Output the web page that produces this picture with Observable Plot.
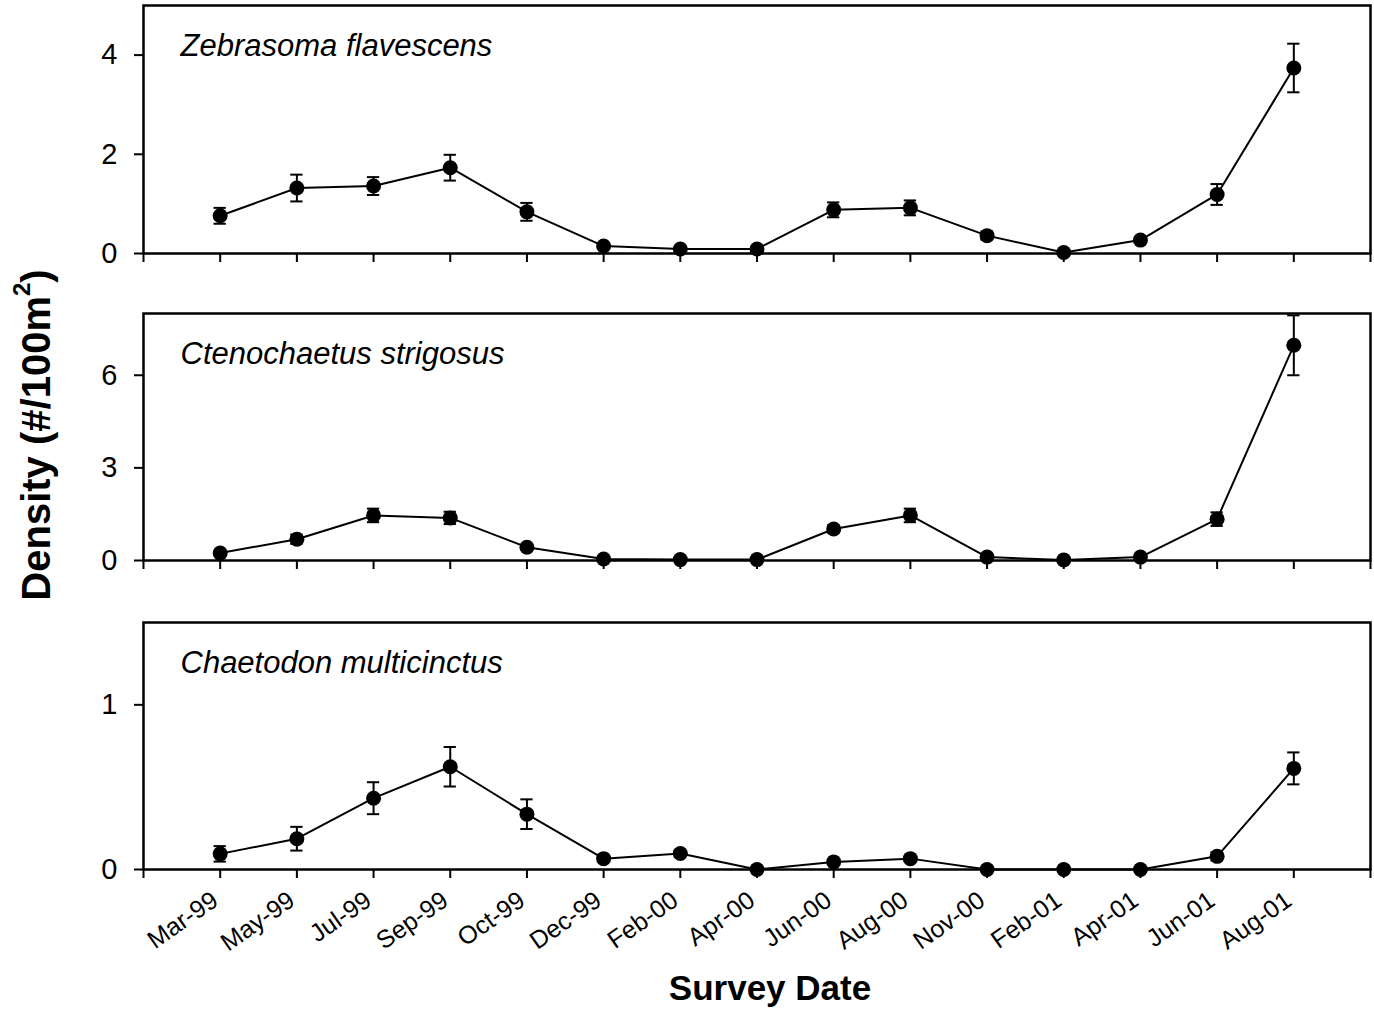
<!DOCTYPE html>
<html>
<head>
<meta charset="utf-8">
<script src="https://cdn.jsdelivr.net/npm/d3@7"></script>
<script src="https://cdn.jsdelivr.net/npm/@observablehq/plot@0.6"></script>
<style>
  html, body { margin: 0; padding: 0; background: #fff; }
  #root { position: relative; width: 1374px; height: 1012px; font-family: "Liberation Sans", Arial, sans-serif; }
  .panel { position: absolute; left: 0; }
  #titles { position: absolute; left: 0; top: 0; pointer-events: none; }
</style>
</head>
<body>
<div id="root">
  <div class="panel" id="p1" style="top:0px"></div>
  <div class="panel" id="p2" style="top:308px"></div>
  <div class="panel" id="p3" style="top:617px"></div>
  <svg id="titles" width="1374" height="1012"></svg>
</div>
<script>
// Survey dates (categorical, evenly spaced)
const dates = ["Mar-99","May-99","Jul-99","Sep-99","Oct-99","Dec-99","Feb-00","Apr-00","Jun-00","Aug-00","Nov-00","Feb-01","Apr-01","Jun-01","Aug-01"];

// Species names
const species = ["Zebrasoma flavescens", "Ctenochaetus strigosus", "Chaetodon multicinctus"];

// Mean density (#/100m2) and standard error
const zebrasomaMean = [0.76, 1.32, 1.36, 1.73, 0.84, 0.15, 0.09, 0.09, 0.88, 0.92, 0.36, 0.02, 0.27, 1.19, 3.74];
const zebrasomaSE   = [0.16, 0.27, 0.18, 0.26, 0.18, 0.03, 0.03, 0.03, 0.15, 0.15, 0.08, 0.02, 0.05, 0.21, 0.49];

const ctenoMean = [0.24, 0.69, 1.46, 1.38, 0.43, 0.05, 0.03, 0.03, 1.02, 1.46, 0.11, 0.02, 0.11, 1.34, 6.97];
const ctenoSE   = [0.05, 0.15, 0.22, 0.20, 0.08, 0.03, 0.02, 0.02, 0.12, 0.22, 0.04, 0.02, 0.04, 0.22, 0.97];

const chaetoMean = [0.095, 0.187, 0.433, 0.624, 0.336, 0.066, 0.097, 0, 0.046, 0.066, 0, 0, 0, 0.08, 0.614];
const chaetoSE   = [0.047, 0.072, 0.097, 0.12, 0.09, 0.01, 0.02, 0, 0.01, 0.015, 0, 0, 0, 0.025, 0.097];

// Y axis domains and ticks per panel
const yDomains = [[0, 5], [0, 8], [0, 1.5]];
const yTicks = [[0, 2, 4], [0, 3, 6], [0, 1]];

const FONT = "'Liberation Sans', Arial, sans-serif";
const CAP = 0.08; // half-width of error-bar caps in category units

function rows(mean, se) {
  return mean.map((v, i) => ({i, v, lo: v - se[i], hi: v + se[i]}));
}

function panel(name, mean, se, yDomain, yTickVals, height, marginBottom, showLabels) {
  const data = rows(mean, se);
  const marks = [
    Plot.axisY({ticks: yTickVals, tickSize: 9, tickPadding: 17, fontSize: 29, strokeWidth: 2, label: null, tickFormat: d => String(d)}),
    Plot.axisX({ticks: d3.range(-1, 16), tickSize: 9, strokeWidth: 2, label: null, tickFormat: () => ""})
  ];
  if (showLabels) {
    marks.push(Plot.axisX({ticks: d3.range(0, 15), tickSize: 0, label: null,
      tickFormat: i => dates[i] ?? "",
      tickRotate: -35, fontSize: 25, tickPadding: 28, dx: -5}));
  }
  marks.push(
    Plot.ruleX(data, {x: "i", y1: "lo", y2: "hi", strokeWidth: 2, stroke: "black"}),
    Plot.ruleY(data, {y: "hi", x1: d => d.i - CAP, x2: d => d.i + CAP, strokeWidth: 2, stroke: "black"}),
    Plot.ruleY(data, {y: "lo", x1: d => d.i - CAP, x2: d => d.i + CAP, strokeWidth: 2, stroke: "black"}),
    Plot.line(data, {x: "i", y: "v", stroke: "black", strokeWidth: 2}),
    Plot.dot(data, {x: "i", y: "v", r: 7.5, fill: "black", stroke: "none"}),
    Plot.frame({stroke: "black", strokeWidth: 2.5}),
    Plot.text([name], {frameAnchor: "top-left", dx: 37, dy: 50, lineAnchor: "bottom", textAnchor: "start",
      fontStyle: "italic", fontSize: 31, fill: "black"})
  );
  return Plot.plot({
    width: 1374,
    height,
    marginLeft: 143,
    marginRight: 4,
    marginTop: 5,
    marginBottom,
    style: {fontFamily: FONT, color: "black", background: "white", overflow: "visible"},
    x: {type: "linear", domain: [-1, 15]},
    y: {domain: yDomain},
    marks
  });
}

document.getElementById("p1").append(panel(species[0], zebrasomaMean, zebrasomaSE, yDomains[0], yTicks[0], 300, 47, false));
document.getElementById("p2").append(panel(species[1], ctenoMean, ctenoSE, yDomains[1], yTicks[1], 300, 48, false));
document.getElementById("p3").append(panel(species[2], chaetoMean, chaetoSE, yDomains[2], yTicks[2], 395, 143, true));

// Axis titles
const svg = d3.select("#titles");
svg.append("text")
  .attr("x", 770).attr("y", 1000)
  .attr("text-anchor", "middle")
  .attr("font-family", FONT).attr("font-weight", "bold").attr("font-size", 35)
  .text("Survey Date");
const yl = svg.append("text")
  .attr("transform", "translate(50,435) rotate(-90)")
  .attr("text-anchor", "middle")
  .attr("font-family", FONT).attr("font-weight", "bold").attr("font-size", 40);
yl.append("tspan").text("Density (#/100m");
yl.append("tspan").attr("font-size", 24).attr("dy", -20).text("2");
yl.append("tspan").attr("dy", 20).text(")");
</script>
</body>
</html>
